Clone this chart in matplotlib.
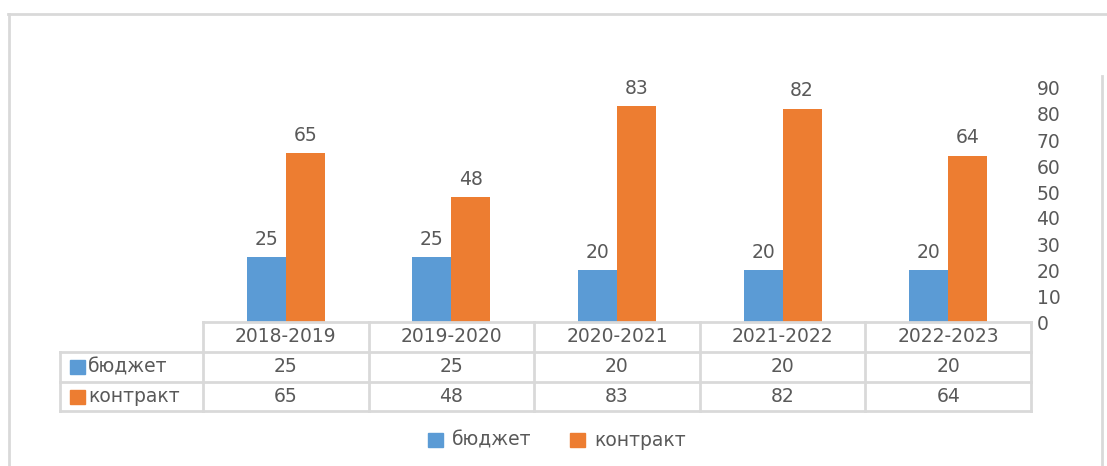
import numpy as np
import matplotlib.pyplot as plt
from matplotlib.lines import Line2D
from matplotlib.patches import Rectangle

years = ['2018-2019', '2019-2020', '2020-2021', '2021-2022', '2022-2023']
budget = [25, 25, 20, 20, 20]
contract = [65, 48, 83, 82, 64]
series_names = ['бюджет', 'контракт']
colors = ['#5B9BD5', '#ED7D31']
text_color = '#595959'
grid_color = '#D9D9D9'

W, H = 1107, 466
plt.rcParams['font.family'] = ['DejaVu Sans']

fig = plt.figure(figsize=(W / 100, H / 100), dpi=100)


def fx(px):
    return px / W


def fy(py):
    return 1 - py / H


def hline(y, x0, x1, lw=2):
    fig.add_artist(Line2D([fx(x0), fx(x1)], [fy(y), fy(y)], color=grid_color, lw=lw))


def vline(x, y0, y1, lw=2):
    fig.add_artist(Line2D([fx(x), fx(x)], [fy(y0), fy(y1)], color=grid_color, lw=lw))


# plot area
left, right, top, bottom = 203, 1031, 88, 322
ax = fig.add_axes([fx(left), fy(bottom), fx(right - left), (bottom - top) / H])
x = np.arange(len(years))
w = 0.235
b1 = ax.bar(x - w / 2, budget, w, color=colors[0])
b2 = ax.bar(x + w / 2, contract, w, color=colors[1])
for bars in (b1, b2):
    ax.bar_label(bars, padding=6, fontsize=13.5, color=text_color)
ax.set_xlim(-0.5, len(years) - 0.5)
ax.set_ylim(0, 90)
ax.set_yticks(range(0, 91, 10))
ax.yaxis.tick_right()
ax.tick_params(axis='y', length=0, pad=4, labelsize=13.5, labelcolor=text_color)
ax.set_xticks([])
for s in ax.spines.values():
    s.set_visible(False)

# data table
col_w = (right - left) / len(years)
rows_y = [322, 352, 382, 411]
label_left = 60
hline(rows_y[0], left, right)
for y in rows_y[1:]:
    hline(y, label_left, right)
for i in range(len(years) + 1):
    vline(left + i * col_w, rows_y[0], rows_y[3])
vline(label_left, rows_y[1], rows_y[3])

for i, yr in enumerate(years):
    cx = left + (i + 0.5) * col_w
    fig.text(fx(cx), fy((rows_y[0] + rows_y[1]) / 2), yr, ha='center', va='center',
             fontsize=13.5, color=text_color)
    for r, vals in enumerate((budget, contract)):
        fig.text(fx(cx), fy((rows_y[r + 1] + rows_y[r + 2]) / 2), str(vals[i]),
                 ha='center', va='center', fontsize=13.5, color=text_color)

for r, name in enumerate(series_names):
    cy = (rows_y[r + 1] + rows_y[r + 2]) / 2
    fig.add_artist(Rectangle((fx(70), fy(cy + 7)), fx(15), 14 / H, color=colors[r]))
    fig.text(fx(88), fy(cy), name, ha='left', va='center', fontsize=13.5, color=text_color)

# legend
leg_x = [428, 570]
for r, name in enumerate(series_names):
    fig.add_artist(Rectangle((fx(leg_x[r]), fy(447)), fx(15), 14 / H, color=colors[r]))
    fig.text(fx(leg_x[r] + 24), fy(440), name, ha='left', va='center', fontsize=13.5,
             color=text_color)

# chart border
hline(14, 8, W)
vline(9, 14, H)
vline(1102, 76, H)

fig.savefig('out.png', dpi=100)
